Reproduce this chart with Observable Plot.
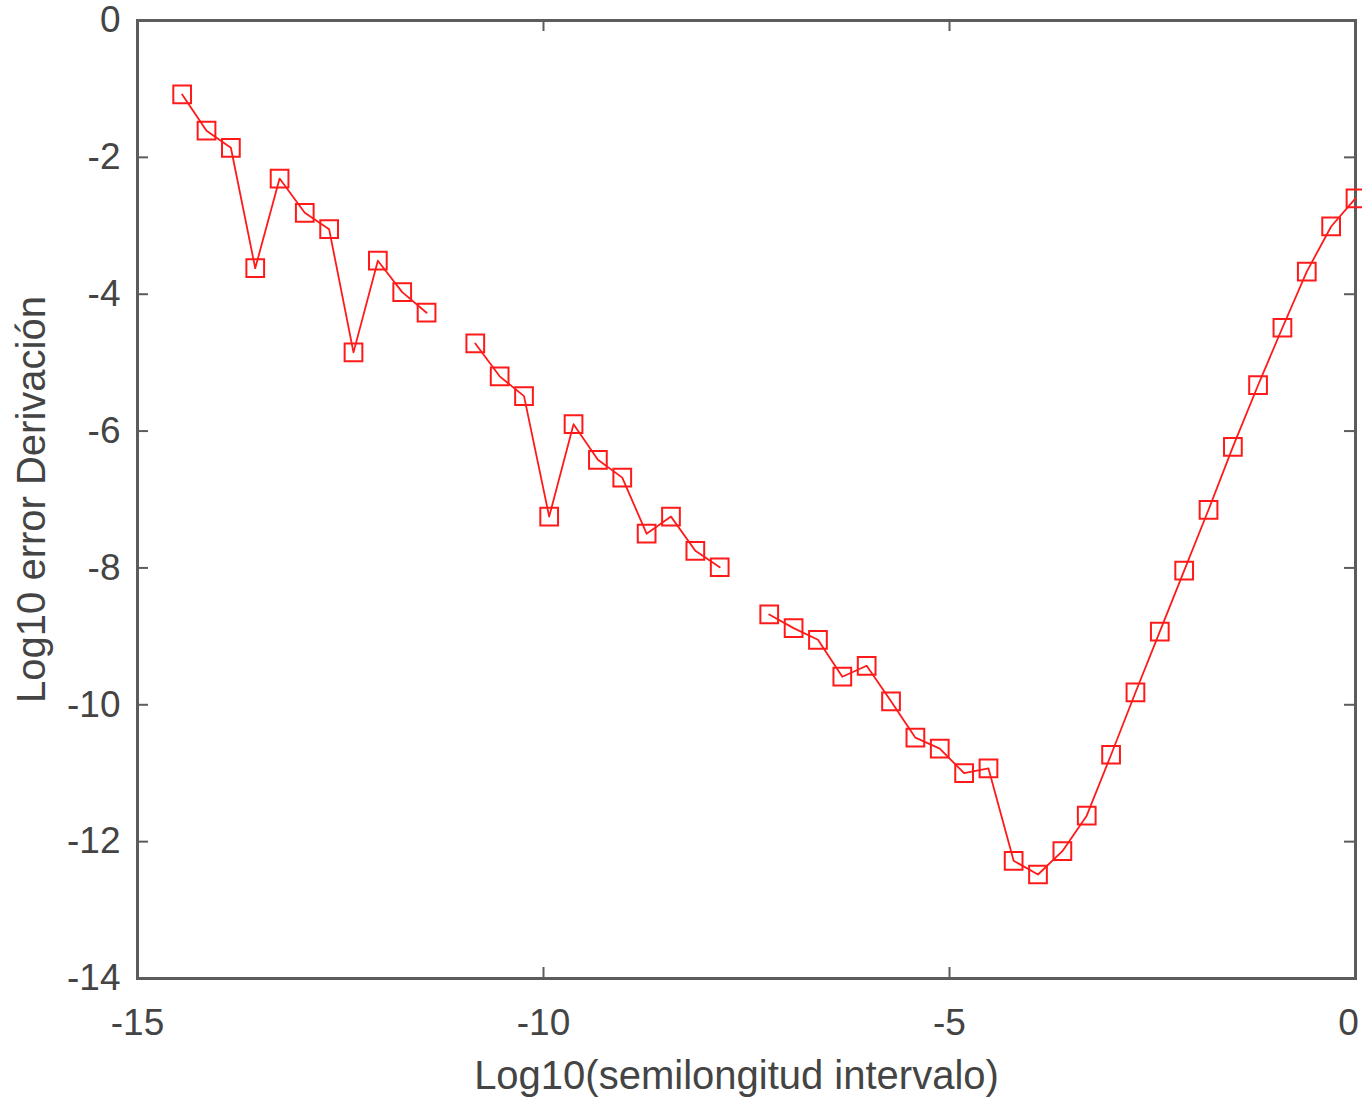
<!DOCTYPE html>
<html><head><meta charset="utf-8">
<script src="https://cdn.jsdelivr.net/npm/d3@7"></script>
<script src="https://cdn.jsdelivr.net/npm/@observablehq/plot@0.6"></script>
<style>body{margin:0;background:#fff} svg{display:block}</style>
</head><body><div id="chart"></div>
<script>
// Log10 of interval half-length (h = 2^-k)
const logH = [-14.45, -14.15, -13.85, -13.55, -13.25, -12.94, -12.64, -12.34, -12.04, -11.74,
  -11.44, -11.14, -10.84, -10.54, -10.24, -9.93, -9.63, -9.33, -9.03, -8.73,
  -8.43, -8.13, -7.83, -7.53, -7.22, -6.92, -6.62, -6.32, -6.02, -5.72,
  -5.42, -5.12, -4.82, -4.52, -4.21, -3.91, -3.61, -3.31, -3.01, -2.71,
  -2.41, -2.11, -1.81, -1.51, -1.20, -0.90, -0.60, -0.30, 0];
// Log10 of derivative error (null = no point drawn)
const logErr = [-1.08, -1.61, -1.86, -3.62, -2.31, -2.81, -3.05, -4.85, -3.51, -3.97,
  -4.27, null, -4.72, -5.20, -5.49, -7.25, -5.90, -6.42, -6.68, -7.50,
  -7.25, -7.75, -7.99, null, -8.68, -8.88, -9.05, -9.59, -9.43, -9.95,
  -10.48, -10.64, -11.00, -10.93, -12.28, -12.48, -12.14, -11.62, -10.73, -9.82,
  -8.93, -8.04, -7.15, -6.23, -5.33, -4.49, -3.67, -3.01, -2.60];
const xTicks = [-15, -10, -5, 0];
const yTicks = [0, -2, -4, -6, -8, -10, -12, -14];
const xLabel = "Log10(semilongitud intervalo)";
const yLabel = "Log10 error Derivación";

const data = logH.map((x, i) => ({x, y: logErr[i]}));
const W = 1362, H = 1101, mL = 137, mR = 7, mT = 20, mB = 123;
const innerW = W - mL - mR, innerH = H - mT - mB;
const axisColor = "#5c5c5c", textColor = "#444444", red = "#ff1a1a";
const fmt = d => String(d);

const plot = Plot.plot({
  width: W, height: H,
  marginLeft: mL, marginRight: mR, marginTop: mT, marginBottom: mB,
  style: {fontFamily: "'Liberation Sans', Arial, sans-serif", fontSize: "37px", color: textColor, background: "#fff", overflow: "visible"},
  x: {domain: [-15, 0]},
  y: {domain: [-14, 0]},
  marks: [
    Plot.axisX(xTicks.slice(0, -1), {tickSize: 0, tickPadding: 30, tickFormat: fmt, label: null, fill: textColor}),
    Plot.axisX(xTicks.slice(-1), {tickSize: 0, tickPadding: 30, tickFormat: fmt, label: null, fill: textColor, dx: -7}),
    Plot.axisY(yTicks, {tickSize: 0, tickPadding: 17, tickFormat: fmt, label: null, fill: textColor}),
    Plot.tickX(xTicks, {x: d => d, insetTop: innerH - 11, stroke: axisColor, strokeWidth: 2}),
    Plot.tickX(xTicks, {x: d => d, insetBottom: innerH - 11, stroke: axisColor, strokeWidth: 2}),
    Plot.tickY(yTicks, {y: d => d, insetRight: innerW - 11, stroke: axisColor, strokeWidth: 2}),
    Plot.tickY(yTicks, {y: d => d, insetLeft: innerW - 11, stroke: axisColor, strokeWidth: 2}),
    Plot.frame({stroke: axisColor, strokeWidth: 3}),
    Plot.line(data, {x: "x", y: "y", stroke: red, strokeWidth: 1.8}),
    Plot.dot(data, {x: "x", y: "y", symbol: "square", r: 10, stroke: red, strokeWidth: 2, fill: "none"}),
    Plot.text([xLabel], {text: d => d, frameAnchor: "bottom", textAnchor: "middle", lineAnchor: "middle", dx: -10, dy: 98, fill: textColor, fontSize: 40}),
    Plot.text([yLabel], {text: d => d, frameAnchor: "left", textAnchor: "middle", lineAnchor: "middle", dx: -105, rotate: -90, fill: textColor, fontSize: 40})
  ]
});
document.getElementById("chart").appendChild(plot);
</script>
</body></html>
